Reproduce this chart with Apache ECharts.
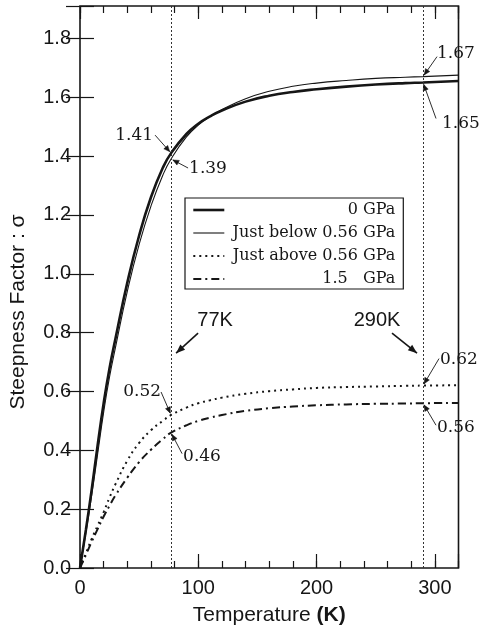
<!DOCTYPE html>
<html>
<head>
<meta charset="utf-8">
<script src="https://cdn.jsdelivr.net/npm/echarts@6/dist/echarts.min.js"></script>
<style>
  html, body { margin: 0; padding: 0; background: #fff; }
  #chart { width: 481px; height: 637px; }
</style>
</head>
<body>
<div id="chart"></div>
<script>
// Temperature grid (K) shared by all curves
const temps = [0, 5, 10, 15, 20, 25, 30, 40, 50, 60, 70, 77, 90, 100, 110, 120, 140, 160, 180, 200, 225, 250, 275, 290, 320];

// Steepness factor sigma for each pressure condition
const sigma0GPa      = [0, 0.13, 0.27, 0.42, 0.56, 0.68, 0.78, 0.97, 1.13, 1.26, 1.36, 1.41, 1.475, 1.51, 1.535, 1.555, 1.585, 1.605, 1.618, 1.627, 1.636, 1.643, 1.648, 1.65, 1.655];
const sigmaBelow056  = [0, 0.12, 0.25, 0.39, 0.53, 0.65, 0.75, 0.94, 1.10, 1.23, 1.335, 1.39, 1.465, 1.505, 1.535, 1.558, 1.595, 1.62, 1.637, 1.648, 1.657, 1.664, 1.668, 1.67, 1.675];
const sigmaAbove056  = [0, 0.05, 0.10, 0.145, 0.19, 0.24, 0.285, 0.365, 0.425, 0.468, 0.50, 0.52, 0.545, 0.56, 0.57, 0.579, 0.592, 0.601, 0.607, 0.612, 0.615, 0.617, 0.619, 0.62, 0.621];
const sigma15GPa     = [0, 0.045, 0.09, 0.133, 0.175, 0.212, 0.247, 0.307, 0.36, 0.402, 0.438, 0.46, 0.485, 0.50, 0.511, 0.52, 0.534, 0.543, 0.549, 0.553, 0.556, 0.558, 0.559, 0.56, 0.561];

const seriesNames = ['0 GPa', 'Just below 0.56 GPa', 'Just above 0.56 GPa', '1.5\u00a0\u00a0\u00a0GPa'];

// Reference temperatures marked by vertical lines
const markTemps = [77, 290];
const markTempLabels = ['77K', '290K'];

// Values called out at the reference temperatures
const callouts = [
  { text: '1.41', t: 77,  v: 1.41 },
  { text: '1.39', t: 77,  v: 1.39 },
  { text: '1.67', t: 290, v: 1.67 },
  { text: '1.65', t: 290, v: 1.65 },
  { text: '0.52', t: 77,  v: 0.52 },
  { text: '0.46', t: 77,  v: 0.46 },
  { text: '0.62', t: 290, v: 0.62 },
  { text: '0.56', t: 290, v: 0.56 }
];

// Axis ticks
const xMax = 320, xMajor = 100, xMinor = 20;
const yMax = 1.91, yMajor = 0.2;

const INK = '#161616';
const SANS = "'Liberation Sans', Arial, sans-serif";
const SERIF = "'DejaVu Serif', serif";
const SANS_SIZE = 20;

// Stroke styles per series
const strokes = [
  { width: 2.6 },
  { width: 1.1 },
  { width: 2, type: [2, 4] },
  { width: 2, type: [8, 4, 2, 4] }
];

const pair = (xs, ys) => xs.map((x, i) => [x, ys[i]]);

const chart = echarts.init(document.getElementById('chart'), null, { renderer: 'canvas' });

const baseX = {
  type: 'value', min: 0, max: xMax,
  splitLine: { show: false },
  axisLine: { show: false },
  axisLabel: { show: false },
  axisTick: { show: true, inside: true, lineStyle: { color: INK, width: 1.2 } }
};

const lineSeries = (name, data, lineStyle) => ({
  name, type: 'line', data,
  symbol: 'none', showSymbol: false, smooth: 0.5,
  itemStyle: { color: INK },
  lineStyle: Object.assign({ color: INK }, lineStyle)
});

const option = {
  animation: false,
  backgroundColor: '#fff',
  grid: { left: 78, right: 22.5, top: 6, bottom: 69, show: true, borderColor: INK, borderWidth: 1.6, backgroundColor: 'transparent' },
  xAxis: [
    Object.assign({}, baseX, {
      position: 'bottom', interval: xMajor,
      axisTick: { show: true, inside: true, length: 14, lineStyle: { color: INK, width: 1.2 } },
      axisLabel: { show: true, margin: 10, color: INK, fontFamily: SANS, fontSize: SANS_SIZE,
        formatter: v => (v % xMajor === 0 ? String(v) : '') },
      name: '{n|Temperature }{b|(K)}',
      nameLocation: 'middle', nameGap: 37,
      nameTextStyle: { rich: {
        n: { fontFamily: SANS, fontSize: SANS_SIZE + 1, color: INK },
        b: { fontFamily: SANS, fontSize: SANS_SIZE + 1, color: INK, fontWeight: 'bold' }
      } }
    }),
    Object.assign({}, baseX, { position: 'bottom', interval: xMinor,
      axisTick: { show: true, inside: true, length: 7, lineStyle: { color: INK, width: 1.2 } } }),
    Object.assign({}, baseX, { position: 'top', interval: xMajor,
      axisTick: { show: true, inside: true, length: 13, lineStyle: { color: INK, width: 1.2 } } }),
    Object.assign({}, baseX, { position: 'top', interval: xMinor,
      axisTick: { show: true, inside: true, length: 7, lineStyle: { color: INK, width: 1.2 } } })
  ],
  yAxis: [
    {
      type: 'value', min: 0, max: yMax, interval: yMajor, position: 'left',
      splitLine: { show: false }, axisLine: { show: false },
      axisTick: { show: true, inside: true, length: 14, lineStyle: { color: INK, width: 1.2 } },
      axisLabel: { color: INK, fontFamily: SANS, fontSize: SANS_SIZE, margin: 9,
        formatter: v => (Math.abs(v / yMajor - Math.round(v / yMajor)) < 1e-6 ? v.toFixed(1) : '') },
      name: 'Steepness Factor : \u03c3',
      nameLocation: 'middle', nameRotate: 90, nameGap: 51,
      nameTextStyle: { fontFamily: SANS, fontSize: SANS_SIZE + 1, color: INK, padding: [0, 50, 0, 0] }
    },
    {
      type: 'value', min: 0, max: yMax, interval: yMajor, position: 'right',
      splitLine: { show: false }, axisLine: { show: false },
      axisLabel: { show: false },
      axisTick: { show: true, inside: true, length: 14, lineStyle: { color: INK, width: 1.2 } }
    }
  ],
  legend: {
    orient: 'vertical', left: 185, top: 198,
    backgroundColor: '#fff',
    borderColor: INK, borderWidth: 1.2, borderRadius: 0,
    padding: [4, 8, 2, 7],
    itemWidth: 31, itemHeight: 14, itemGap: 7,
    selectedMode: false,
    itemStyle: { opacity: 0 },
    data: seriesNames.map((n, i) => ({ name: n, lineStyle: Object.assign({ color: INK }, strokes[i]) })),
    formatter: name => '{r|' + name + '}',
    textStyle: {
      color: INK,
      rich: { r: { width: 166, height: 14, lineHeight: 14, align: 'right', fontFamily: SERIF, fontSize: 16, color: INK } }
    }
  },
  series: [
    Object.assign(lineSeries(seriesNames[0], pair(temps, sigma0GPa), strokes[0]), {
      markLine: {
        silent: true, symbol: ['none', 'none'], label: { show: false },
        lineStyle: { color: '#333', width: 1, type: [2, 2] },
        data: markTemps.map(t => ({ xAxis: t }))
      }
    }),
    lineSeries(seriesNames[1], pair(temps, sigmaBelow056), strokes[1]),
    lineSeries(seriesNames[2], pair(temps, sigmaAbove056), strokes[2]),
    lineSeries(seriesNames[3], pair(temps, sigma15GPa), strokes[3])
  ]
};

chart.setOption(option);

// ---- Callout arrows and labels, anchored to data coordinates ----
const px = (t, v) => chart.convertToPixel({ xAxisIndex: 0, yAxisIndex: 0 }, [t, v]);

// tail offset from the data point, label side, and label offset from the tail
const calloutLayout = {
  '1.41': { tail: [-16, -18], side: 'left',  lab: [-2, 0] },
  '1.39': { tail: [17, 9],    side: 'right', lab: [1, 1] },
  '1.67': { tail: [14, -20],  side: 'right', lab: [0, -3] },
  '1.65': { tail: [13, 36],   side: 'right', lab: [6, 5] },
  '0.52': { tail: [-10, -23], side: 'left',  lab: [0, 0] },
  '0.46': { tail: [11, 21],   side: 'right', lab: [1, 3] },
  '0.62': { tail: [16, -27],  side: 'right', lab: [1, 1] },
  '0.56': { tail: [13, 22],   side: 'right', lab: [1, 2] }
};

function arrowHead(tip, from, len, half) {
  const dx = tip[0] - from[0], dy = tip[1] - from[1];
  const d = Math.hypot(dx, dy) || 1;
  const ux = dx / d, uy = dy / d;
  const bx = tip[0] - ux * len, by = tip[1] - uy * len;
  return [[bx - uy * half, by + ux * half], tip, [bx + uy * half, by - ux * half]];
}

const graphics = [];

callouts.forEach(c => {
  const L = calloutLayout[c.text];
  const p = px(c.t, c.v);
  const tail = [p[0] + L.tail[0], p[1] + L.tail[1]];
  const d = Math.hypot(L.tail[0], L.tail[1]);
  const tip = [p[0] + L.tail[0] * 2 / d, p[1] + L.tail[1] * 2 / d];
  graphics.push({ type: 'line', silent: true, z: 20,
    shape: { x1: tail[0], y1: tail[1], x2: tip[0], y2: tip[1] },
    style: { stroke: INK, lineWidth: 0.9 } });
  const head = arrowHead(tip, tail, 6, 2.6);
  graphics.push({ type: 'polygon', silent: true, z: 20,
    shape: { points: head }, style: { fill: INK, stroke: INK, lineWidth: 0.5 } });
  graphics.push({ type: 'text', silent: true, z: 20,
    x: tail[0] + L.lab[0], y: tail[1] + L.lab[1],
    style: { text: c.text, fill: INK, font: '17px ' + SERIF,
      align: L.side === 'left' ? 'right' : 'left', verticalAlign: 'middle' } });
});

// Temperature markers: bold arrows pointing at the dotted lines
const markerLayout = [
  { v: 0.73, tipDx: 5,  tail: [22, -20], label: [39, -33] },
  { v: 0.73, tipDx: -6, tail: [-25, -20], label: [-40, -33] }
];
markTemps.forEach((t, i) => {
  const L = markerLayout[i];
  const p = px(t, L.v);
  const tip = [p[0] + L.tipDx, p[1]];
  const tail = [tip[0] + L.tail[0], tip[1] + L.tail[1]];
  graphics.push({ type: 'line', silent: true, z: 20,
    shape: { x1: tail[0], y1: tail[1], x2: tip[0], y2: tip[1] },
    style: { stroke: INK, lineWidth: 1.6 } });
  graphics.push({ type: 'polygon', silent: true, z: 20,
    shape: { points: arrowHead(tip, tail, 9, 3.5) }, style: { fill: INK } });
  graphics.push({ type: 'text', silent: true, z: 20,
    x: tip[0] + L.label[0], y: tip[1] + L.label[1],
    style: { text: markTempLabels[i], fill: INK, font: SANS_SIZE + 'px ' + SANS,
      align: 'center', verticalAlign: 'middle' } });
});

chart.setOption({ graphic: graphics });
</script>
</body>
</html>
